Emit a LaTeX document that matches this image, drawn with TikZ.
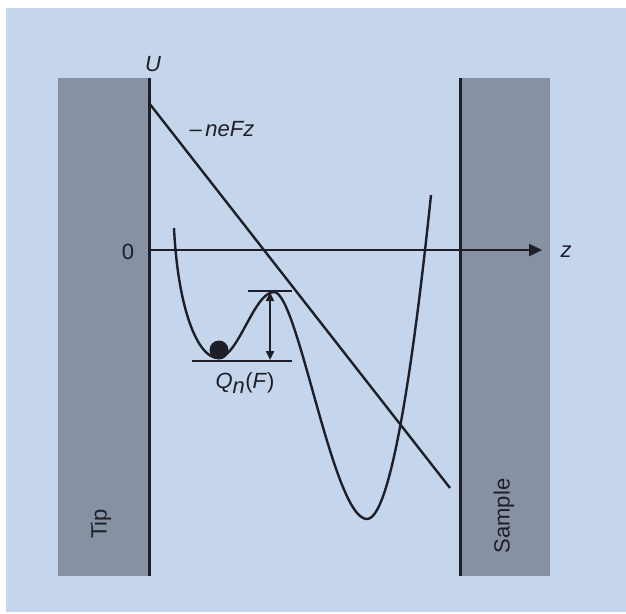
\documentclass[tikz,border=0pt]{standalone}
\usepackage{fontspec}
\setmainfont{Liberation Sans}
\usetikzlibrary{arrows.meta}
\definecolor{bgblue}{RGB}{197,214,236}
\definecolor{slab}{RGB}{134,145,163}
\definecolor{ink}{RGB}{30,30,40}
\tikzset{
  slabbox/.style={fill=slab, draw=none},
  wall/.style={draw=ink, line width=3pt},
  thin/.style={draw=ink, line width=2.4pt},
  lbl/.style={font=\fontsize{22}{26}\selectfont, text=ink, inner sep=0pt},
}
\begin{document}
\begin{tikzpicture}[x=1pt,y=-1pt]
\useasboundingbox (0,0) rectangle (626,613);
\fill[white] (0,0) rectangle (626,613);
\fill[bgblue] (6,8) rectangle (626,612);
% slabs
\fill[slabbox] (58,78) rectangle (149,576);
\fill[slabbox] (460,78) rectangle (550,576);
\coordinate (tipTop) at (149,78);
\coordinate (tipBot) at (149,576);
\coordinate (smpTop) at (460,78);
\coordinate (smpBot) at (460,576);
\draw[wall] (tipTop) -- (tipBot);
\draw[wall] (smpTop) -- (smpBot);
\node[lbl, rotate=90] (tip) at (101,524) {Tip};
\node[lbl, rotate=90] (sample) at (504,516) {Sample};
% axis
\coordinate (origin) at (149,250);
\coordinate (zend) at (542,250);
\draw[thin, -{Triangle[length=13pt,width=12pt]}] (origin) -- (zend);
\node[lbl] (zlab) at (566,252) {\textit{z}};
\node[lbl] (zero) at (128,252) {0};
\node[lbl] (ulab) at (153,64) {\textit{U}};
% field line
\coordinate (fA) at (149,103);
\coordinate (fB) at (450,488);
\draw[thin] (fA) -- (fB);
\node[lbl] (nefz) at (222,129) {\textendash\,\textit{neFz}};
% potential curve
\coordinate (cS) at (174,228);
\coordinate (cM1) at (218,358);
\coordinate (cP) at (274,292);
\coordinate (cM2) at (367,519);
\coordinate (cE) at (431,195);
\draw[thin, line join=round]
  (cS) .. controls (178,310) and (198,358) .. (cM1)
       .. controls (238,358) and (254,292) .. (cP)
       .. controls (298,292) and (333,519) .. (cM2)
       .. controls (395,519) and (420,300) .. (cE);
% barrier marks
\coordinate (botL) at (192,361);
\coordinate (botR) at (292,361);
\coordinate (topL) at (248,291);
\coordinate (topR) at (292,291);
\draw[thin] (botL) -- (botR);
\draw[thin] (topL) -- (topR);
\coordinate (arrTop) at (270,292);
\coordinate (arrBot) at (270,360);
\draw[thin, {Triangle[length=9pt,width=8pt]}-{Triangle[length=9pt,width=8pt]}] (arrTop) -- (arrBot);
\fill[ink] (219,350) circle (9.5);
\node[lbl] (qn) at (245,383) {\textit{Q}$_{\textit{n}}$(\textit{F})};
\end{tikzpicture}
\end{document}
